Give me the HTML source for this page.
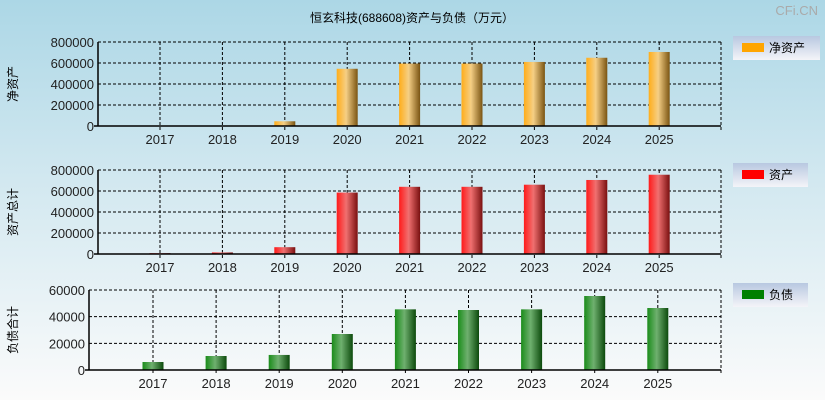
<!DOCTYPE html>
<html><head><meta charset="utf-8">
<style>
body{margin:0;width:825px;height:400px;overflow:hidden;font-family:"Liberation Sans","Noto Sans CJK SC",sans-serif;}
#bg{position:absolute;left:0;top:0;width:825px;height:400px;background:linear-gradient(#acd7e6,#d2e8f0 45%,#fbfbfb);}
svg{position:absolute;left:0;top:0;}
</style></head>
<body>
<div id="bg"></div>
<svg id="c" width="825" height="400">
<defs>
<linearGradient id="gO" x1="0" x2="1"><stop offset="0" stop-color="#ffad1a"/><stop offset="0.45" stop-color="#f5cf85"/><stop offset="1" stop-color="#7a5412"/></linearGradient>
<linearGradient id="gR" x1="0" x2="1"><stop offset="0" stop-color="#ff1a1a"/><stop offset="0.45" stop-color="#f07070"/><stop offset="1" stop-color="#7a1010"/></linearGradient>
<linearGradient id="gG" x1="0" x2="1"><stop offset="0" stop-color="#1a8c1a"/><stop offset="0.45" stop-color="#6fb06f"/><stop offset="1" stop-color="#0c4a0c"/></linearGradient>
<linearGradient id="gL" x1="0" y1="0" x2="0" y2="1"><stop offset="0" stop-color="#b8c8e0"/><stop offset="1" stop-color="#f4f4f8"/></linearGradient>
</defs>
<text x="412" y="22" font-size="12" text-anchor="middle">恒玄科技(688608)资产与负债（万元）</text>
<text x="818" y="15" font-size="13" fill="#aaa" text-anchor="end">CFi.CN</text>
</svg>
<script>
const years = ["2017","2018","2019","2020","2021","2022","2023","2024","2025"];
const netAssets = [5000,5000,45000,545000,595000,595000,610000,650000,705000];
const totalAssets = [8000,15000,65000,585000,640000,640000,660000,705000,755000];
const liabilities = [6000,10500,11300,27000,45500,45000,45500,55500,46500];
const ticks1 = [0,200000,400000,600000,800000];
const ticks3 = [0,20000,40000,60000];

const svg = document.getElementById('c');
const NS = 'http://www.w3.org/2000/svg';
function mk(tag, attrs, parent){const e=document.createElementNS(NS,tag);for(const k in attrs)e.setAttribute(k,attrs[k]);(parent||svg).appendChild(e);return e;}

function panel(cfg){
  const g = mk('g',{});
  
  
  const {x0,x1,y0,y1,first,step,max,vals,ticks,fill,ylabel,legend,lx,ly,lw} = cfg;
  const xs = i => first + i*step;
  const ys = v => y1 - v/max*(y1-y0);
  // grid
  ticks.forEach(t=>{
    if(t>0){const l=mk('line',{x1:x0,x2:x1,y1:ys(t),y2:ys(t),stroke:'#000','stroke-dasharray':'3,2','stroke-width':1},g);
      }
    const tx=mk('text',{x:x0-4,y:ys(t)+5,'font-size':13,'text-anchor':'end',fill:'#222'},g);tx.textContent=t;
    
  });
  years.forEach((y,i)=>{
    const l=mk('line',{x1:xs(i),x2:xs(i),y1:y0,y2:y1+4,stroke:'#000','stroke-dasharray':'3,2'},g);
    
    const tx=mk('text',{x:xs(i),y:y1+18,'font-size':13,'text-anchor':'middle',fill:'#222'},g);tx.textContent=y;
    
  });
  mk('line',{x1:x1,x2:x1,y1:y0,y2:y1+4,stroke:'#000','stroke-dasharray':'3,2'},g);
  mk('line',{x1:x0,x2:x1,y1:y0,y2:y0,stroke:'#000','stroke-dasharray':'3,2'},g);
  // bars
  vals.forEach((v,i)=>{
    const r=mk('rect',{x:xs(i)-10.5,y:ys(v),width:21,height:Math.max(1,y1-ys(v)),fill:fill},g);
    
  });
  // axes
  mk('line',{x1:x0,x2:x0,y1:y0,y2:y1,stroke:'#000','stroke-width':1.5},g);
  mk('line',{x1:x0-4,x2:x1,y1:y1,y2:y1,stroke:'#000','stroke-width':1.5},g);
  const yl=mk('text',{x:0,y:0,'font-size':12,'text-anchor':'middle',transform:`translate(17,${(y0+y1)/2}) rotate(-90)`},g);yl.textContent=ylabel;
  
  // legend
  const lg=mk('g',{},g);
  
  mk('rect',{x:lx,y:ly,width:lw,height:24,fill:'url(#gL)'},lg);
  mk('rect',{x:lx+9,y:ly+7,width:22,height:9,fill:cfg.lcol},lg);
  const lt=mk('text',{x:lx+36,y:ly+16,'font-size':12},lg);lt.textContent=legend;
}
panel({name:'net-assets-panel',x0:98,x1:721,y0:42,y1:126,first:160,step:62.4,max:800000,vals:netAssets,ticks:ticks1,fill:'url(#gO)',ylabel:'净资产',legend:'净资产',lcol:'#ffa500',lx:733,ly:36,lw:87});
panel({name:'total-assets-panel',x0:98,x1:721,y0:170,y1:254,first:160,step:62.4,max:800000,vals:totalAssets,ticks:ticks1,fill:'url(#gR)',ylabel:'资产总计',legend:'资产',lcol:'#ff0000',lx:733,ly:163,lw:75});
panel({name:'liabilities-panel',x0:89,x1:721,y0:290,y1:370,first:153,step:63.1,max:60000,vals:liabilities,ticks:ticks3,fill:'url(#gG)',ylabel:'负债合计',legend:'负债',lcol:'#008000',lx:733,ly:283,lw:75});
</script>
</body></html>
